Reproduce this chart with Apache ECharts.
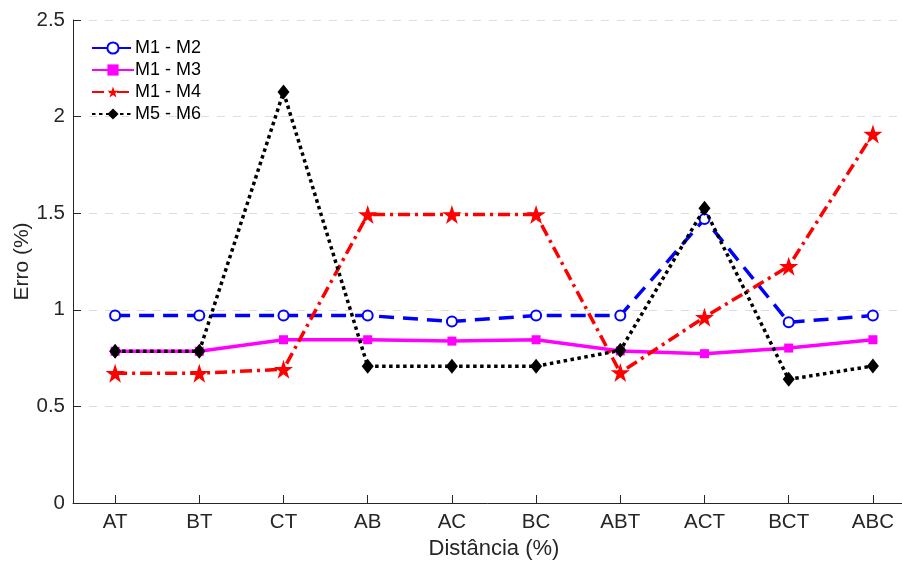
<!DOCTYPE html>
<html>
<head>
<meta charset="utf-8">
<script src="https://cdn.jsdelivr.net/npm/echarts@6/dist/echarts.min.js"></script>
<style>
  html, body { margin: 0; padding: 0; background: #fff; }
  #chart { width: 902px; height: 561px; }
</style>
</head>
<body>
<div id="chart"></div>
<script>
// Configuration categories
const categories = ['AT', 'BT', 'CT', 'AB', 'AC', 'BC', 'ABT', 'ACT', 'BCT', 'ABC'];

// Error (%) per comparison
const m1m2 = [0.97, 0.97, 0.97, 0.97, 0.94, 0.97, 0.97, 1.47, 0.935, 0.97];
const m1m3 = [0.785, 0.785, 0.845, 0.845, 0.838, 0.845, 0.787, 0.773, 0.802, 0.845];
const m1m4 = [0.672, 0.672, 0.692, 1.493, 1.493, 1.493, 0.675, 0.962, 1.225, 1.91];
const m5m6 = [0.785, 0.785, 2.127, 0.708, 0.708, 0.708, 0.79, 1.525, 0.64, 0.709];

const yTicks = [0, 0.5, 1, 1.5, 2, 2.5];

const FONT = 'Liberation Sans, Arial, sans-serif';
const TXT = '#262626';

const chart = echarts.init(document.getElementById('chart'), null, { renderer: 'canvas' });

chart.setOption({
  animation: false,
  backgroundColor: '#ffffff',
  // the plot box runs past the right edge of the canvas
  grid: { left: 73, top: 20, right: -13, bottom: 58, containLabel: false, outerBoundsMode: 'none' },
  legend: {
    orient: 'vertical',
    left: 86,
    top: 34,
    itemWidth: 42,
    itemHeight: 14,
    itemGap: 4,
    textStyle: { fontFamily: FONT, fontSize: 18, color: '#000', padding: [0, 0, 0, -4] },
    data: ['M1 - M2', 'M1 - M3', 'M1 - M4', 'M5 - M6']
  },
  xAxis: {
    type: 'category',
    data: categories,
    boundaryGap: true,
    name: 'Distância (%)',
    nameLocation: 'middle',
    nameGap: 35,
    nameTextStyle: { fontFamily: FONT, fontSize: 22, color: TXT },
    axisLine: { show: true, lineStyle: { color: TXT, width: 1 } },
    axisTick: { show: true, inside: true, length: 8, alignWithLabel: true, lineStyle: { color: TXT } },
    axisLabel: { fontFamily: FONT, fontSize: 20.5, color: TXT, margin: 9, interval: 0 },
    splitLine: { show: false }
  },
  yAxis: {
    type: 'value',
    min: yTicks[0],
    max: yTicks[yTicks.length - 1],
    interval: 0.5,
    name: 'Erro (%)',
    nameLocation: 'middle',
    nameGap: 40,
    nameMoveOverlap: false,
    nameRotate: 90,
    nameTextStyle: { fontFamily: FONT, fontSize: 21, color: TXT },
    axisLine: { show: true, lineStyle: { color: TXT, width: 1 } },
    axisTick: { show: true, inside: true, length: 8, lineStyle: { color: TXT } },
    axisLabel: { fontFamily: FONT, fontSize: 20.5, color: TXT, margin: 8 },
    splitLine: { show: true, lineStyle: { color: '#dddddd', width: 1, type: [8, 8] } }
  },
  series: [
    {
      name: 'M1 - M2',
      type: 'line',
      data: m1m2,
      symbol: 'emptyCircle',
      symbolSize: 10,
      lineStyle: { color: '#0000ff', width: 3.5, type: [15, 9] },
      itemStyle: { color: '#0000ff', borderColor: '#0000ff', borderWidth: 2.5 },
      z: 2
    },
    {
      name: 'M1 - M3',
      type: 'line',
      data: m1m3,
      symbol: 'rect',
      symbolSize: 9,
      lineStyle: { color: '#ff00ff', width: 3.5, type: 'solid' },
      itemStyle: { color: '#ff00ff' },
      z: 3
    },
    {
      name: 'M1 - M4',
      type: 'line',
      data: m1m4,
      symbol: 'path://M50,0 L61.8,35.5 L99,35.5 L68.9,57.5 L80.4,93 L50,71 L19.6,93 L31.1,57.5 L1,35.5 L38.2,35.5 Z',
      symbolSize: 19,
      lineStyle: { color: '#ff0000', width: 3.5, type: [12, 5, 3, 5] },
      itemStyle: { color: '#ff0000' },
      z: 4
    },
    {
      name: 'M5 - M6',
      type: 'line',
      data: m5m6,
      symbol: 'diamond',
      symbolSize: [12, 15],
      lineStyle: { color: '#000000', width: 3.5, type: [3.5, 3.5] },
      itemStyle: { color: '#000000' },
      z: 5
    }
  ]
});
</script>
</body>
</html>
